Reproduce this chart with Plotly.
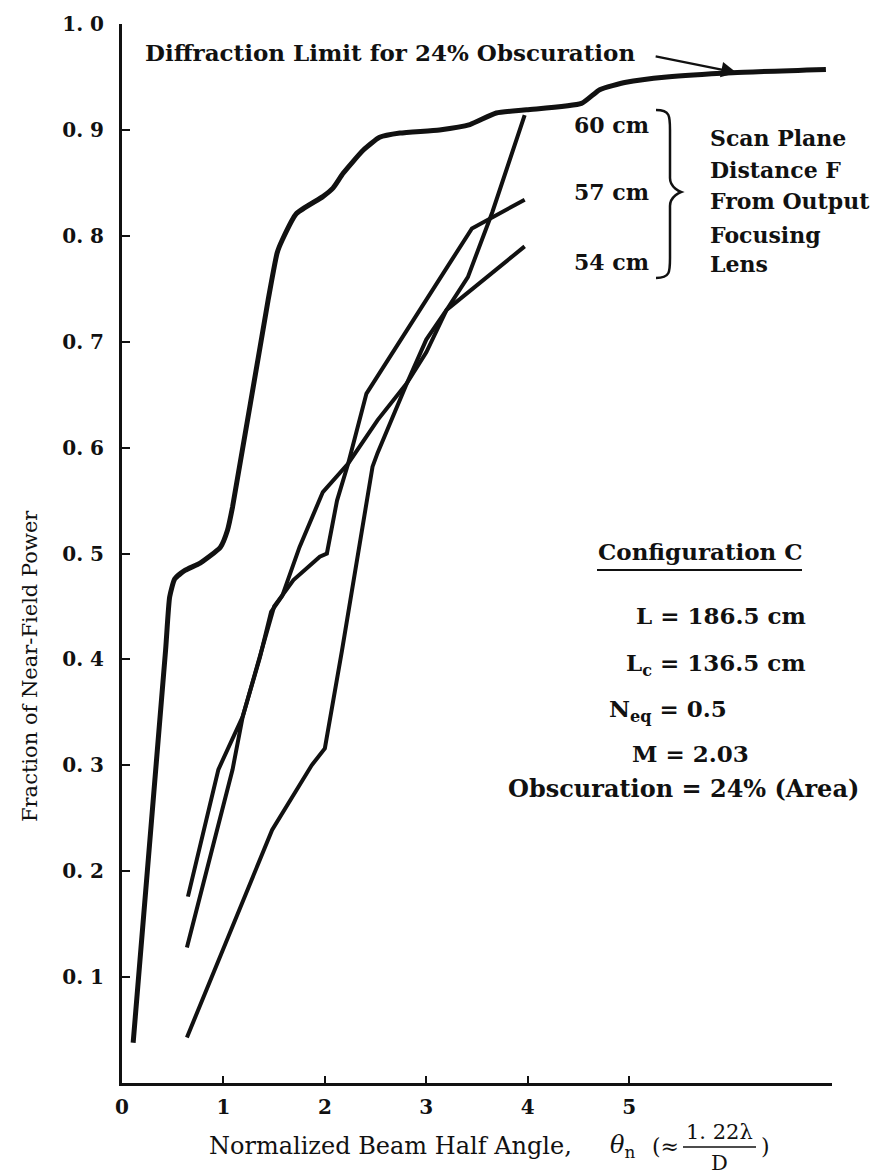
import plotly.graph_objects as go

# ---------------- data ----------------
diff_x = [0.11, 0.43, 0.47, 0.52, 0.62, 0.77, 0.97, 1.04, 1.09, 1.44, 1.53, 1.58, 1.72, 1.98,
          2.08, 2.18, 2.38, 2.54, 2.74, 3.13, 3.43, 3.69, 3.99, 4.53, 4.71, 4.97, 5.37, 6.02, 6.94]
diff_y = [0.038, 0.409, 0.459, 0.476, 0.484, 0.491, 0.506, 0.522, 0.544, 0.739, 0.784, 0.796, 0.821, 0.837,
          0.845, 0.859, 0.881, 0.893, 0.897, 0.900, 0.905, 0.916, 0.919, 0.925, 0.938, 0.945, 0.950, 0.954, 0.957]

f60_x = [0.64, 1.48, 1.87, 2.00, 2.17, 2.25, 2.47, 2.52, 2.66, 2.81, 3.00, 3.20, 3.41, 3.65, 3.97]
f60_y = [0.043, 0.239, 0.300, 0.316, 0.409, 0.456, 0.582, 0.595, 0.626, 0.661, 0.690, 0.730, 0.761, 0.822, 0.914]

f57_x = [0.64, 1.09, 1.19, 1.36, 1.50, 1.69, 1.95, 2.02, 2.12, 2.23, 2.34, 2.41, 3.25, 3.45, 3.97]
f57_y = [0.128, 0.296, 0.346, 0.402, 0.450, 0.475, 0.497, 0.500, 0.550, 0.585, 0.626, 0.651, 0.777, 0.807, 0.834]

f54_x = [0.65, 0.95, 1.19, 1.36, 1.47, 1.58, 1.75, 1.98, 2.23, 2.52, 2.81, 3.00, 3.20, 3.97]
f54_y = [0.176, 0.296, 0.346, 0.402, 0.445, 0.460, 0.506, 0.558, 0.585, 0.626, 0.661, 0.702, 0.730, 0.790]

x_tick_vals = [0, 1, 2, 3, 4, 5]
x_tick_text = ["0", "1", "2", "3", "4", "5"]
y_tick_vals = [0.1, 0.2, 0.3, 0.4, 0.5, 0.6, 0.7, 0.8, 0.9, 1.0]
y_tick_text = ["0. 1", "0. 2", "0. 3", "0. 4", "0. 5", "0. 6", "0. 7", "0. 8", "0. 9", "1. 0"]

curve_labels = ["60 cm", "57 cm", "54 cm"]
legend_lines = ["Scan Plane", "Distance F", "From Output", "Focusing", "Lens"]
config_title = "Configuration C"
config_lines = ["L = 186.5 cm", "L<sub>c</sub> = 136.5 cm", "N<sub>eq</sub> = 0.5",
                "M = 2.03", "Obscuration = 24% (Area)"]

# ---------------- geometry (screen pixels; page has an 8px body margin) ----------------
W, H = 878, 1176
OFF = 8
X0_SCREEN, Y0_SCREEN = 122, 1083      # screen position of the (0, 0) corner
PW, PH = 710, 1059
ML = X0_SCREEN - OFF
MT = Y0_SCREEN - PH - OFF
MR = W - ML - PW
MB = H - MT - PH
XMAX = 7.0


def px(x):  # screen pixel -> paper x
    return (x - X0_SCREEN) / PW


def py(y):  # screen pixel -> paper y
    return (Y0_SCREEN - y) / PH


FONT = "DejaVu Serif"
INK = "#111111"

fig = go.Figure()
fig.add_trace(go.Scatter(x=diff_x, y=diff_y, mode="lines",
                         line=dict(color=INK, width=5, shape="spline", smoothing=0.5),
                         hoverinfo="skip", showlegend=False))
for xs, ys in [(f60_x, f60_y), (f57_x, f57_y), (f54_x, f54_y)]:
    fig.add_trace(go.Scatter(x=xs, y=ys, mode="lines",
                             line=dict(color=INK, width=4, shape="linear"),
                             hoverinfo="skip", showlegend=False))

ann = []


def text(x, y, s, size=22, anchor="left", bold=True, **kw):
    ann.append(dict(x=px(x), y=py(y), xref="paper", yref="paper", text=s, showarrow=False,
                    xanchor=anchor, yanchor="middle",
                    font=dict(family=FONT, size=size, color=INK, weight="bold" if bold else "normal"),
                    **kw))


text(143, 53, "Diffraction Limit for 24% Obscuration", size=23)
# arrow to the diffraction curve
ann.append(dict(x=6.06, y=0.954, xref="x", yref="y", ax=-84, ay=-17, text=" ", showarrow=True,
                arrowhead=2, arrowsize=1.4, arrowwidth=2.2, arrowcolor=INK))

for lab, yy in zip(curve_labels, [125, 192, 262]):
    text(611, yy, lab, anchor="center")
for lab, yy in zip(legend_lines, [138, 170, 201, 235, 264]):
    text(708, yy, lab)

text(700, 551, config_title, size=23, anchor="center")
for lab, xx, yy, sz in zip(config_lines, [721, 716, 668, 690, 683], [615, 664, 710, 753, 788],
                           [23, 23, 23, 23, 24]):
    text(xx, yy, lab, size=sz, anchor="center")

# axis titles
text(30, 666, "Fraction of Near-Field Power", size=21, anchor="center", bold=False, textangle=-90)
text(207, 1146, "Normalized Beam Half Angle,", size=24, bold=False)
text(608, 1146, "<i>θ</i><sub>n</sub>", size=24, bold=False)
text(650, 1146, "(≈", size=22, bold=False)
text(719, 1132, "1. 22λ", size=21, anchor="center", bold=False)
text(719, 1163, "D", size=21, anchor="center", bold=False)
text(759, 1146, ")", size=22, bold=False)

shapes = []
# underline of "Configuration C"
shapes.append(dict(type="line", xref="paper", yref="paper", x0=px(597), x1=px(802), y0=py(570), y1=py(570),
                   line=dict(color=INK, width=2)))
# fraction bar
shapes.append(dict(type="line", xref="paper", yref="paper", x0=px(683), x1=px(756), y0=py(1147), y1=py(1147),
                   line=dict(color=INK, width=1.5)))
# brace
bx0, bx1, bx2 = 656, 670, 681
by0, bym, by1 = 110, 192, 278
path = (f"M {px(bx0)},{py(by0)} C {px(bx1)},{py(by0)} {px(bx1)},{py(by0+6)} {px(bx1)},{py(by0+20)} "
        f"L {px(bx1)},{py(bym-14)} C {px(bx1)},{py(bym-4)} {px(bx2)},{py(bym)} {px(bx2)},{py(bym)} "
        f"C {px(bx2)},{py(bym)} {px(bx1)},{py(bym+4)} {px(bx1)},{py(bym+14)} "
        f"L {px(bx1)},{py(by1-20)} C {px(bx1)},{py(by1-6)} {px(bx1)},{py(by1)} {px(bx0)},{py(by1)}")
shapes.append(dict(type="path", xref="paper", yref="paper", path=path, line=dict(color=INK, width=2.5)))

fig.update_layout(
    width=W, height=H, margin=dict(l=ML, r=MR, t=MT, b=MB, pad=0, autoexpand=False),
    paper_bgcolor="white", plot_bgcolor="white",
    annotations=ann, shapes=shapes, showlegend=False,
    xaxis=dict(range=[0, XMAX], showgrid=False, zeroline=False, showline=True, linecolor=INK, linewidth=3,
               automargin=False,
               ticks="inside", ticklen=7, tickwidth=2, tickcolor=INK,
               tickvals=x_tick_vals, ticktext=x_tick_text, ticklabelstandoff=4,
               tickfont=dict(family=FONT, size=20, color=INK, weight="bold")),
    yaxis=dict(range=[0, 1.0], showgrid=False, zeroline=False, showline=True, linecolor=INK, linewidth=3,
               automargin=False,
               ticks="inside", ticklen=8, tickwidth=2, tickcolor=INK,
               tickvals=y_tick_vals, ticktext=y_tick_text, ticklabelstandoff=11,
               tickfont=dict(family=FONT, size=20, color=INK, weight="bold")),
)

fig.write_html("out.html")
